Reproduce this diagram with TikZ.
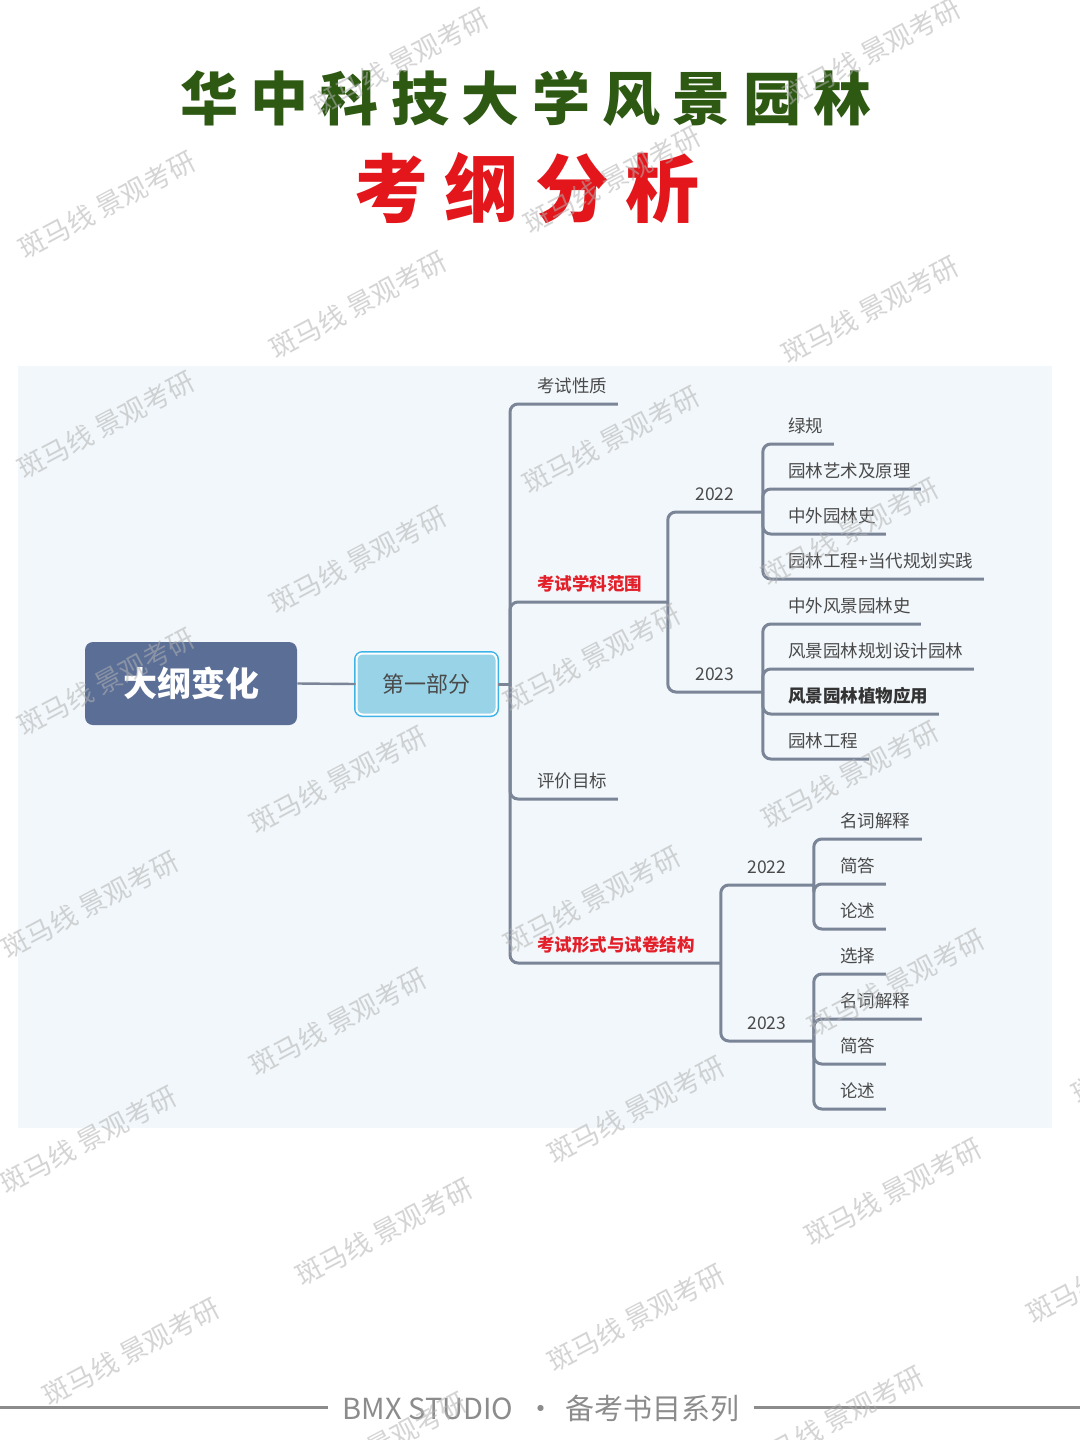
\documentclass[tikz,border=0pt]{standalone}
\usepackage{fontspec}
\setmainfont{Noto Sans CJK SC}
\definecolor{titlegreen}{HTML}{2E5912}
\definecolor{titlered}{HTML}{E3161B}
\definecolor{panel}{HTML}{F2F7FB}
\definecolor{rootfill}{HTML}{5A6E96}
\definecolor{pfill}{HTML}{98D3E7}
\definecolor{pborder}{HTML}{3DB3E8}
\definecolor{conncol}{HTML}{7B8598}
\definecolor{txt}{HTML}{4A4A4A}
\definecolor{hot}{HTML}{E3202A}
\definecolor{dark}{HTML}{333333}
\definecolor{foot}{HTML}{8C8C8C}
\newcommand\tsa{\kern6.2pt }
\newcommand\tsb{\kern8.3pt }
\tikzset{
  conn/.style={draw=conncol, line width=1.5pt, rounded corners=4pt},
  item/.style={anchor=south west, inner xsep=0pt, inner ysep=3.4pt, text height=0.8em, text depth=0.2em,
               align=left, font=\fontsize{8.75pt}{10pt}\selectfont, text=txt},
  yearnode/.style={item, align=center},
  hotitem/.style={item, text=hot, font=\fontsize{8.75pt}{10pt}\selectfont\bfseries},
  darkitem/.style={item, text=dark, font=\fontsize{8.75pt}{10pt}\selectfont\bfseries},
  rootbox/.style={fill=rootfill, rounded corners=4pt, minimum width=106pt, minimum height=41.5pt,
                  text=white, font=\fontsize{17pt}{17pt}\selectfont\bfseries},
  partbox/.style={fill=pfill, draw=white, line width=1pt, preaction={draw=pborder, line width=2.5pt},
                  rounded corners=3pt, minimum width=70pt, minimum height=30.5pt, text=txt,
                  font=\fontsize{11pt}{11pt}\selectfont},
  footline/.style={draw=foot, line width=1.5pt},
  wmark/.style={rotate=28, text=black!30, opacity=0.55, font=\fontsize{13.5pt}{13.5pt}\selectfont}
}
\begin{document}
\begin{tikzpicture}[x=0.5pt, y=-0.5pt]
\useasboundingbox[fill=white] (0,0) rectangle (1080,1440);
% panel
\fill[panel] (18,366) rectangle (1052,1128);
% titles
\node[font=\fontsize{29pt}{29pt}\selectfont\bfseries, text=titlegreen] (t1) at (526,98)
  {华\tsa 中\tsa 科\tsa 技\tsa 大\tsa 学\tsa 风\tsa 景\tsa 园\tsa 林};
\node[font=\fontsize{37pt}{37pt}\selectfont\bfseries, text=titlered] (t2) at (527,188)
  {考\tsb 纲\tsb 分\tsb 析};
% main nodes
\node[rootbox] (root) at (191,683.5) {大纲变化};
\node[partbox] (p1) at (426.5,684) {第一部分};
\coordinate (j1) at (510,684);
% level 2
\node[item, text width=40pt] (a1) at (537,404) {考试性质};
\node[hotitem, text width=65pt] (a2) at (537,602) {考试学科范围};
\node[item, text width=40pt] (a3) at (537,799) {评价目标};
\node[hotitem, text width=91.5pt] (a4) at (537,963) {考试形式与试卷结构};
% level 3
\node[yearnode, text width=47.5pt] (b1) at (667,512) {2022};
\node[yearnode, text width=47.5pt] (b2) at (667,692) {2023};
\node[yearnode, text width=46.5pt] (b3) at (720,885) {2022};
\node[yearnode, text width=46.5pt] (b4) at (720,1041) {2023};
% level 4
\node[item, text width=22.5pt] (c1) at (788,444) {绿规};
\node[item, text width=66pt] (c2) at (788,489) {园林艺术及原理};
\node[item, text width=48.5pt] (c3) at (788,534) {中外园林史};
\node[item, text width=97.5pt] (c4) at (788,579) {园林工程+当代规划实践};
\node[item, text width=66pt] (c5) at (788,624) {中外风景园林史};
\node[item, text width=92.5pt] (c6) at (788,669) {风景园林规划设计园林};
\node[darkitem, text width=75pt] (c7) at (788,714) {风景园林植物应用};
\node[item, text width=40pt] (c8) at (788,759) {园林工程};
\node[item, text width=40.5pt] (d1) at (840,839) {名词解释};
\node[item, text width=22.5pt] (d2) at (840,884) {简答};
\node[item, text width=22.5pt] (d3) at (840,929) {论述};
\node[item, text width=22.5pt] (d4) at (840,974) {选择};
\node[item, text width=40.5pt] (d5) at (840,1019) {名词解释};
\node[item, text width=22.5pt] (d6) at (840,1064) {简答};
\node[item, text width=22.5pt] (d7) at (840,1109) {论述};
% connectors
\draw[draw=conncol, line width=1.2pt] (root.east) -- (p1.west);
\draw[conn] (p1.east) -- (j1);
\foreach \n in {a1,a2,a3,a4} \draw[conn] (j1) |- (\n.south east);
\foreach \n in {b1,b2} \draw[conn] (a2.south east) |- (\n.south east);
\foreach \n in {b3,b4} \draw[conn] (a4.south east) |- (\n.south east);
\foreach \n in {c1,c2,c3,c4} \draw[conn] (b1.south east) |- (\n.south east);
\foreach \n in {c5,c6,c7,c8} \draw[conn] (b2.south east) |- (\n.south east);
\foreach \n in {d1,d2,d3} \draw[conn] (b3.south east) |- (\n.south east);
\foreach \n in {d4,d5,d6,d7} \draw[conn] (b4.south east) |- (\n.south east);
% footer
\node[text=foot, inner xsep=7pt, font=\fontsize{14.5pt}{14.5pt}\selectfont] (ft) at (541,1408)
  {BMX STUDIO\hspace{6.5pt}·\hspace{5pt}备考书目系列};
\coordinate (fl) at (0,1407);
\coordinate (fr) at (1080,1407);
\draw[footline] (fl) -- (fl -| ft.west);
\draw[footline] (fr -| ft.east) -- (fr);
% watermarks
\foreach \p [count=\i] in {(400,62),(872,52),(107,205),(612,180),(358,305),(870,310),(106,425),(611,440),
  (358,560),(850,532),(106,682),(592,658),(338,780),(850,775),(90,905),(592,900),(896,983),(338,1022),
  (88,1140),(636,1110),(1160,1050),(893,1192),(384,1232),(131,1352),(636,1318),(1115,1270),(835,1420),(378,1446)}
  \node[wmark] (wm\i) at \p {斑马线 景观考研};
\end{tikzpicture}
\end{document}
